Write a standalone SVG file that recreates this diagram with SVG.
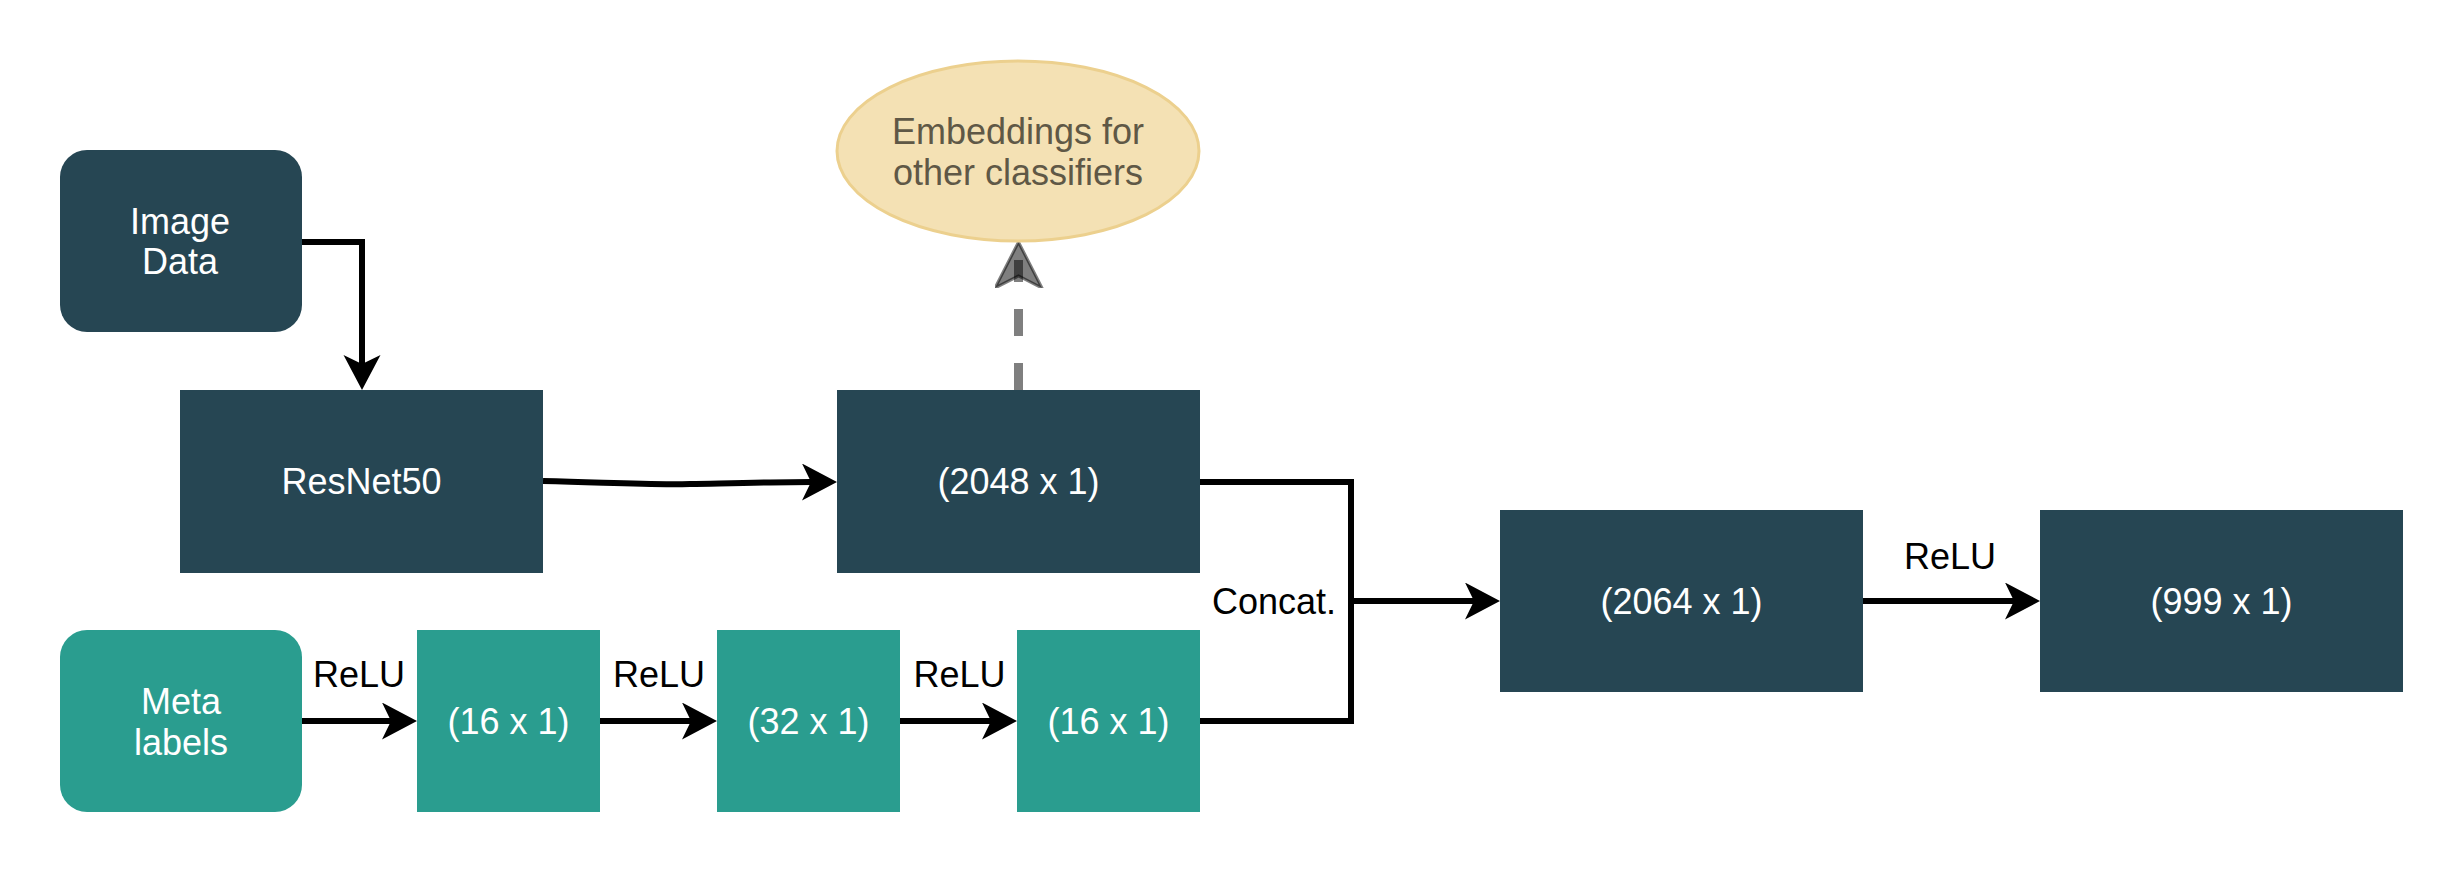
<svg xmlns="http://www.w3.org/2000/svg" width="2463" height="873" viewBox="0 0 2463 873">
  <style>
    text { font-family: "Liberation Sans", Arial, Helvetica, sans-serif; font-size: 36px; text-anchor: middle; }
    .dark { fill: #264653; }
    .teal { fill: #2a9d8f; }
    .lbl { fill: #ffffff; }
    .edge-lbl { fill: #000000; }
    .conn { fill: none; stroke: #000000; stroke-width: 6; stroke-linejoin: miter; }
    .dash { fill: none; stroke: #000000; stroke-opacity: 0.5; stroke-width: 9; stroke-dasharray: 27 27; }
  </style>
  <defs>
    <marker id="arrow" markerUnits="userSpaceOnUse" markerWidth="40" markerHeight="40" refX="9" refY="18.5" orient="auto" viewBox="0 0 40 40">
      <path d="M0,0 L35,18.5 L0,37 L9,18.5 Z" fill="#000000"/>
    </marker>
    <marker id="arrowGray" markerUnits="userSpaceOnUse" markerWidth="52" markerHeight="52" refX="28" refY="23.5" orient="auto" viewBox="0 0 52 52">
      <path d="M0,0 L46,23.5 L0,47 L12,23.5 Z" fill="#000000" fill-opacity="0.5" stroke="#000000" stroke-opacity="0.5" stroke-width="3" stroke-dasharray="none"/>
    </marker>
  </defs>

  <rect width="2463" height="873" fill="#ffffff"/>

  <g id="connectors">
    <path class="conn" d="M302,242 H362 V364" marker-end="url(#arrow)"/>
    <path class="conn" d="M543,481 C620,483 650,485 690,484 C740,483 780,482 811,482" marker-end="url(#arrow)"/>
    <path class="conn" d="M1200,482 H1351 V721 H1200"/>
    <path class="conn" d="M1351,601 H1474" marker-end="url(#arrow)"/>
    <path class="conn" d="M302,721 H391" marker-end="url(#arrow)"/>
    <path class="conn" d="M600,721 H691" marker-end="url(#arrow)"/>
    <path class="conn" d="M900,721 H991" marker-end="url(#arrow)"/>
    <path class="conn" d="M1863,601 H2014" marker-end="url(#arrow)"/>
    <path class="dash" d="M1018.5,390 V260" marker-end="url(#arrowGray)"/>
    <text class="edge-lbl" x="359" y="687">ReLU</text>
    <text class="edge-lbl" x="659" y="687">ReLU</text>
    <text class="edge-lbl" x="959.5" y="687">ReLU</text>
    <text class="edge-lbl" x="1336" y="614" style="text-anchor:end">Concat.</text>
    <text class="edge-lbl" x="1950" y="569">ReLU</text>
  </g>

  <g id="image-data">
    <rect class="dark" x="60" y="150" width="242" height="182" rx="27" ry="27"/>
    <text class="lbl" x="180" y="234">Image</text>
    <text class="lbl" x="180" y="274">Data</text>
  </g>

  <g id="resnet50">
    <rect class="dark" x="180" y="390" width="363" height="183"/>
    <text class="lbl" x="361.5" y="494">ResNet50</text>
  </g>

  <g id="emb-2048">
    <rect class="dark" x="837" y="390" width="363" height="183"/>
    <text class="lbl" x="1018.5" y="494">(2048 x 1)</text>
  </g>

  <g id="embeddings-other">
    <ellipse cx="1018" cy="151" rx="181" ry="90" fill="#f4e1b4" stroke="#ecd08e" stroke-width="3"/>
    <text x="1018" y="144" fill="#5f5846">Embeddings for</text>
    <text x="1018" y="185" fill="#5f5846">other classifiers</text>
  </g>

  <g id="meta-labels">
    <rect class="teal" x="60" y="630" width="242" height="182" rx="27" ry="27"/>
    <text class="lbl" x="181" y="714">Meta</text>
    <text class="lbl" x="181" y="755">labels</text>
  </g>

  <g id="meta-16a">
    <rect class="teal" x="417" y="630" width="183" height="182"/>
    <text class="lbl" x="508.5" y="734">(16 x 1)</text>
  </g>

  <g id="meta-32">
    <rect class="teal" x="717" y="630" width="183" height="182"/>
    <text class="lbl" x="808.5" y="734">(32 x 1)</text>
  </g>

  <g id="meta-16b">
    <rect class="teal" x="1017" y="630" width="183" height="182"/>
    <text class="lbl" x="1108.5" y="734">(16 x 1)</text>
  </g>

  <g id="concat-2064">
    <rect class="dark" x="1500" y="510" width="363" height="182"/>
    <text class="lbl" x="1681.5" y="614">(2064 x 1)</text>
  </g>

  <g id="out-999">
    <rect class="dark" x="2040" y="510" width="363" height="182"/>
    <text class="lbl" x="2221.5" y="614">(999 x 1)</text>
  </g>
</svg>
